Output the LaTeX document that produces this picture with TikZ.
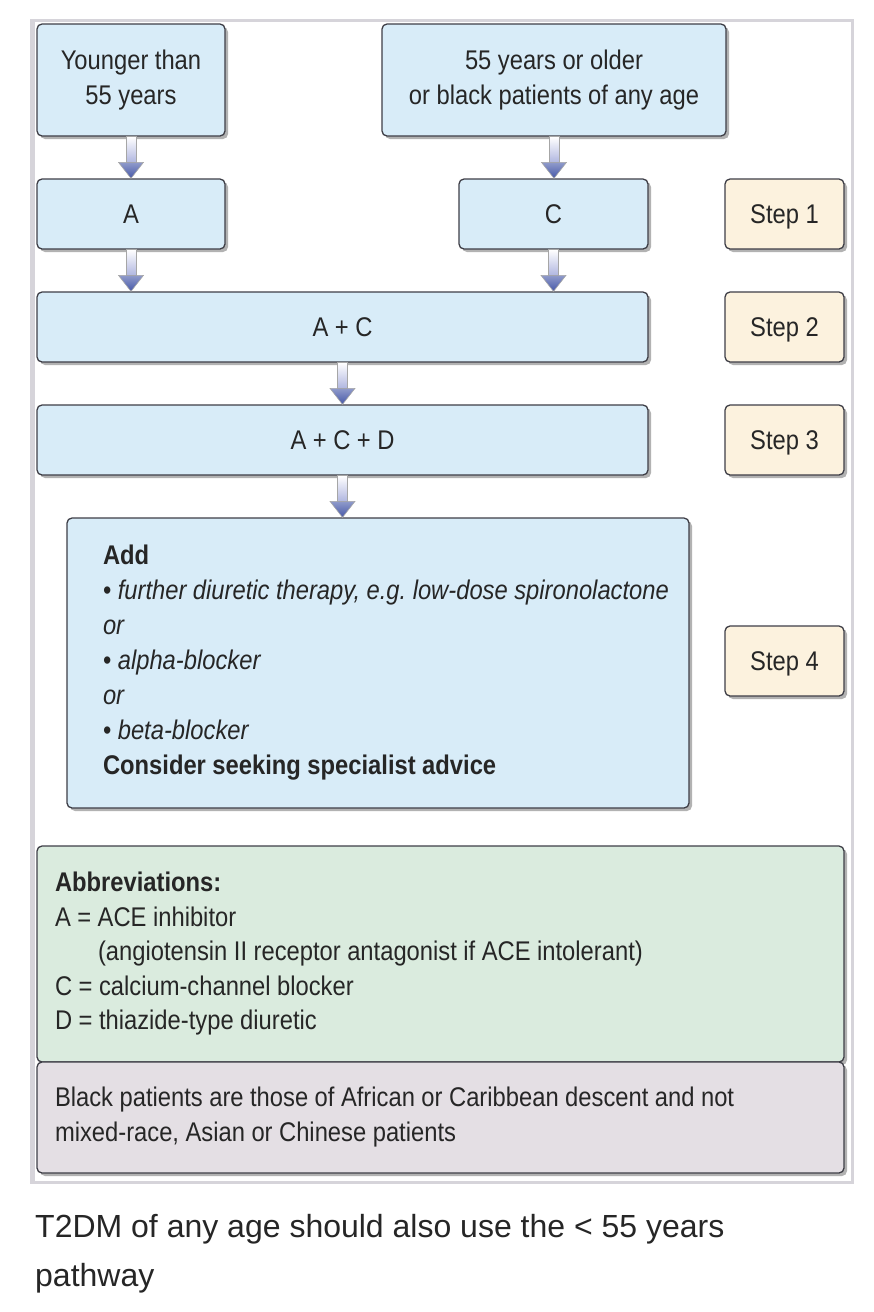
\documentclass[tikz,border=0pt]{standalone}
\usepackage{fontspec}
\setmainfont[FakeStretch=0.88, WordSpace=0.75]{Liberation Sans}
\newfontfamily\notefont{Liberation Sans}
\usetikzlibrary{shadows,calc}

\definecolor{boxblue}{RGB}{216,236,248}
\definecolor{boxcream}{RGB}{252,242,222}
\definecolor{boxgreen}{RGB}{218,235,222}
\definecolor{boxgrey}{RGB}{228,223,228}
\definecolor{edgegrey}{RGB}{62,62,70}
\definecolor{framegrey}{RGB}{214,212,218}
\definecolor{tipblue}{RGB}{70,88,168}
\definecolor{shaftlav}{RGB}{176,182,224}

% downward block arrow between two named points
\newcommand{\flowarrow}[2]{%
  \draw[flowshaft] let \p1=(#1), \p2=(#2) in
    (\x1-5pt,\y1) -- (\x1+5pt,\y1) -- (\x1+5pt,\y2+16pt) -- (\x1-5pt,\y2+16pt) -- cycle;
  \draw[flowtip] let \p1=(#1), \p2=(#2) in
    (\x1-12.5pt,\y2+16pt) -- (\x1+12.5pt,\y2+16pt) -- (\x1,\y2) -- cycle;
}

\begin{document}
\begin{tikzpicture}[x=1pt, y=-1pt,
    every node/.style={font=\fontsize{27}{35}\selectfont, text=black!85},
    box/.style={draw=edgegrey, line width=1.3pt, rounded corners=5pt, fill=boxblue,
        align=center, inner sep=0pt,
        execute at begin node={\frenchspacing\spaceskip=6.5pt plus 2pt minus 1pt},
        drop shadow={shadow xshift=3pt, shadow yshift=-3pt, fill=black, opacity=0.3}},
    stepbox/.style={box, fill=boxcream, minimum width=119pt, minimum height=70pt, text depth=0pt},
    flowshaft/.style={draw=gray!70, line width=0.6pt, top color=white, bottom color=shaftlav},
    flowtip/.style={draw=gray!70, line width=0.6pt, top color=tipblue!60, bottom color=tipblue}]
    \useasboundingbox (0,0) rectangle (874,1312);

    % Frame
    \draw[framegrey, line width=3pt] (31,20) rectangle (852,1182);
    \fill[framegrey] (30,19) rectangle (35,1183);

    % Start boxes
    \node[box, minimum width=188pt, minimum height=112pt] (young) at (131,80) {Younger than\\55 years};
    \node[box, minimum width=344pt, minimum height=112pt] (old) at (554,80) {55 years or older\\or black patients of any age};

    % Drug steps
    \node[box, minimum width=188pt, minimum height=70pt] (A) at (131,214) {A};
    \node[box, minimum width=189pt, minimum height=70pt] (C) at (553.5,214) {C};
    \node[box, minimum width=611pt, minimum height=70pt] (AC) at (342.5,327) {A + C};
    \node[box, minimum width=611pt, minimum height=70pt] (ACD) at (342.5,440) {A + C + D};
    \node[box, minimum width=622pt, minimum height=290pt, text width=550pt, align=left] (add) at (378,663)
        {\textbf{Add}\\
         \mbox{• \textit{further diuretic therapy, e.g. low-dose spironolactone}}\\
         \textit{or}\\
         • \textit{alpha-blocker}\\
         \textit{or}\\
         • \textit{beta-blocker}\\
         \textbf{Consider seeking specialist advice}};

    % Step labels
    \node[stepbox] (step1) at (784.5,214) {Step 1};
    \node[stepbox] (step2) at (784.5,327) {Step 2};
    \node[stepbox] (step3) at (784.5,440) {Step 3};
    \node[stepbox] (step4) at (784.5,661) {Step 4};

    % Key
    \node[box, fill=boxgreen, minimum width=807pt, minimum height=216pt, text width=771pt, align=left,
        font=\fontsize{27}{34.5}\selectfont] (abbr) at (440.5,954)
        {\textbf{Abbreviations:}\\
         A = ACE inhibitor\\
         \hspace*{43pt}(angiotensin II receptor antagonist if ACE intolerant)\\
         C = calcium-channel blocker\\
         D = thiazide-type diuretic};
    \node[box, fill=boxgrey, minimum width=807pt, minimum height=111pt, text width=771pt, align=left] (black) at (440.5,1117.5)
        {Black patients are those of African or Caribbean descent and not\\
         mixed-race, Asian or Chinese patients};

    % Arrows
    \flowarrow{young.south}{A.north}
    \flowarrow{old.south}{C.north}
    \flowarrow{A.south}{A.south |- AC.north}
    \flowarrow{C.south}{C.south |- AC.north}
    \flowarrow{AC.south}{ACD.north}
    \flowarrow{ACD.south}{ACD.south |- add.north}

    % Note
    \node[anchor=north west, inner sep=0pt, align=left, font=\notefont\fontsize{32}{49}\selectfont] (note) at (35,1214)
        {T2DM of any age should also use the < 55 years\\pathway};
\end{tikzpicture}
\end{document}
